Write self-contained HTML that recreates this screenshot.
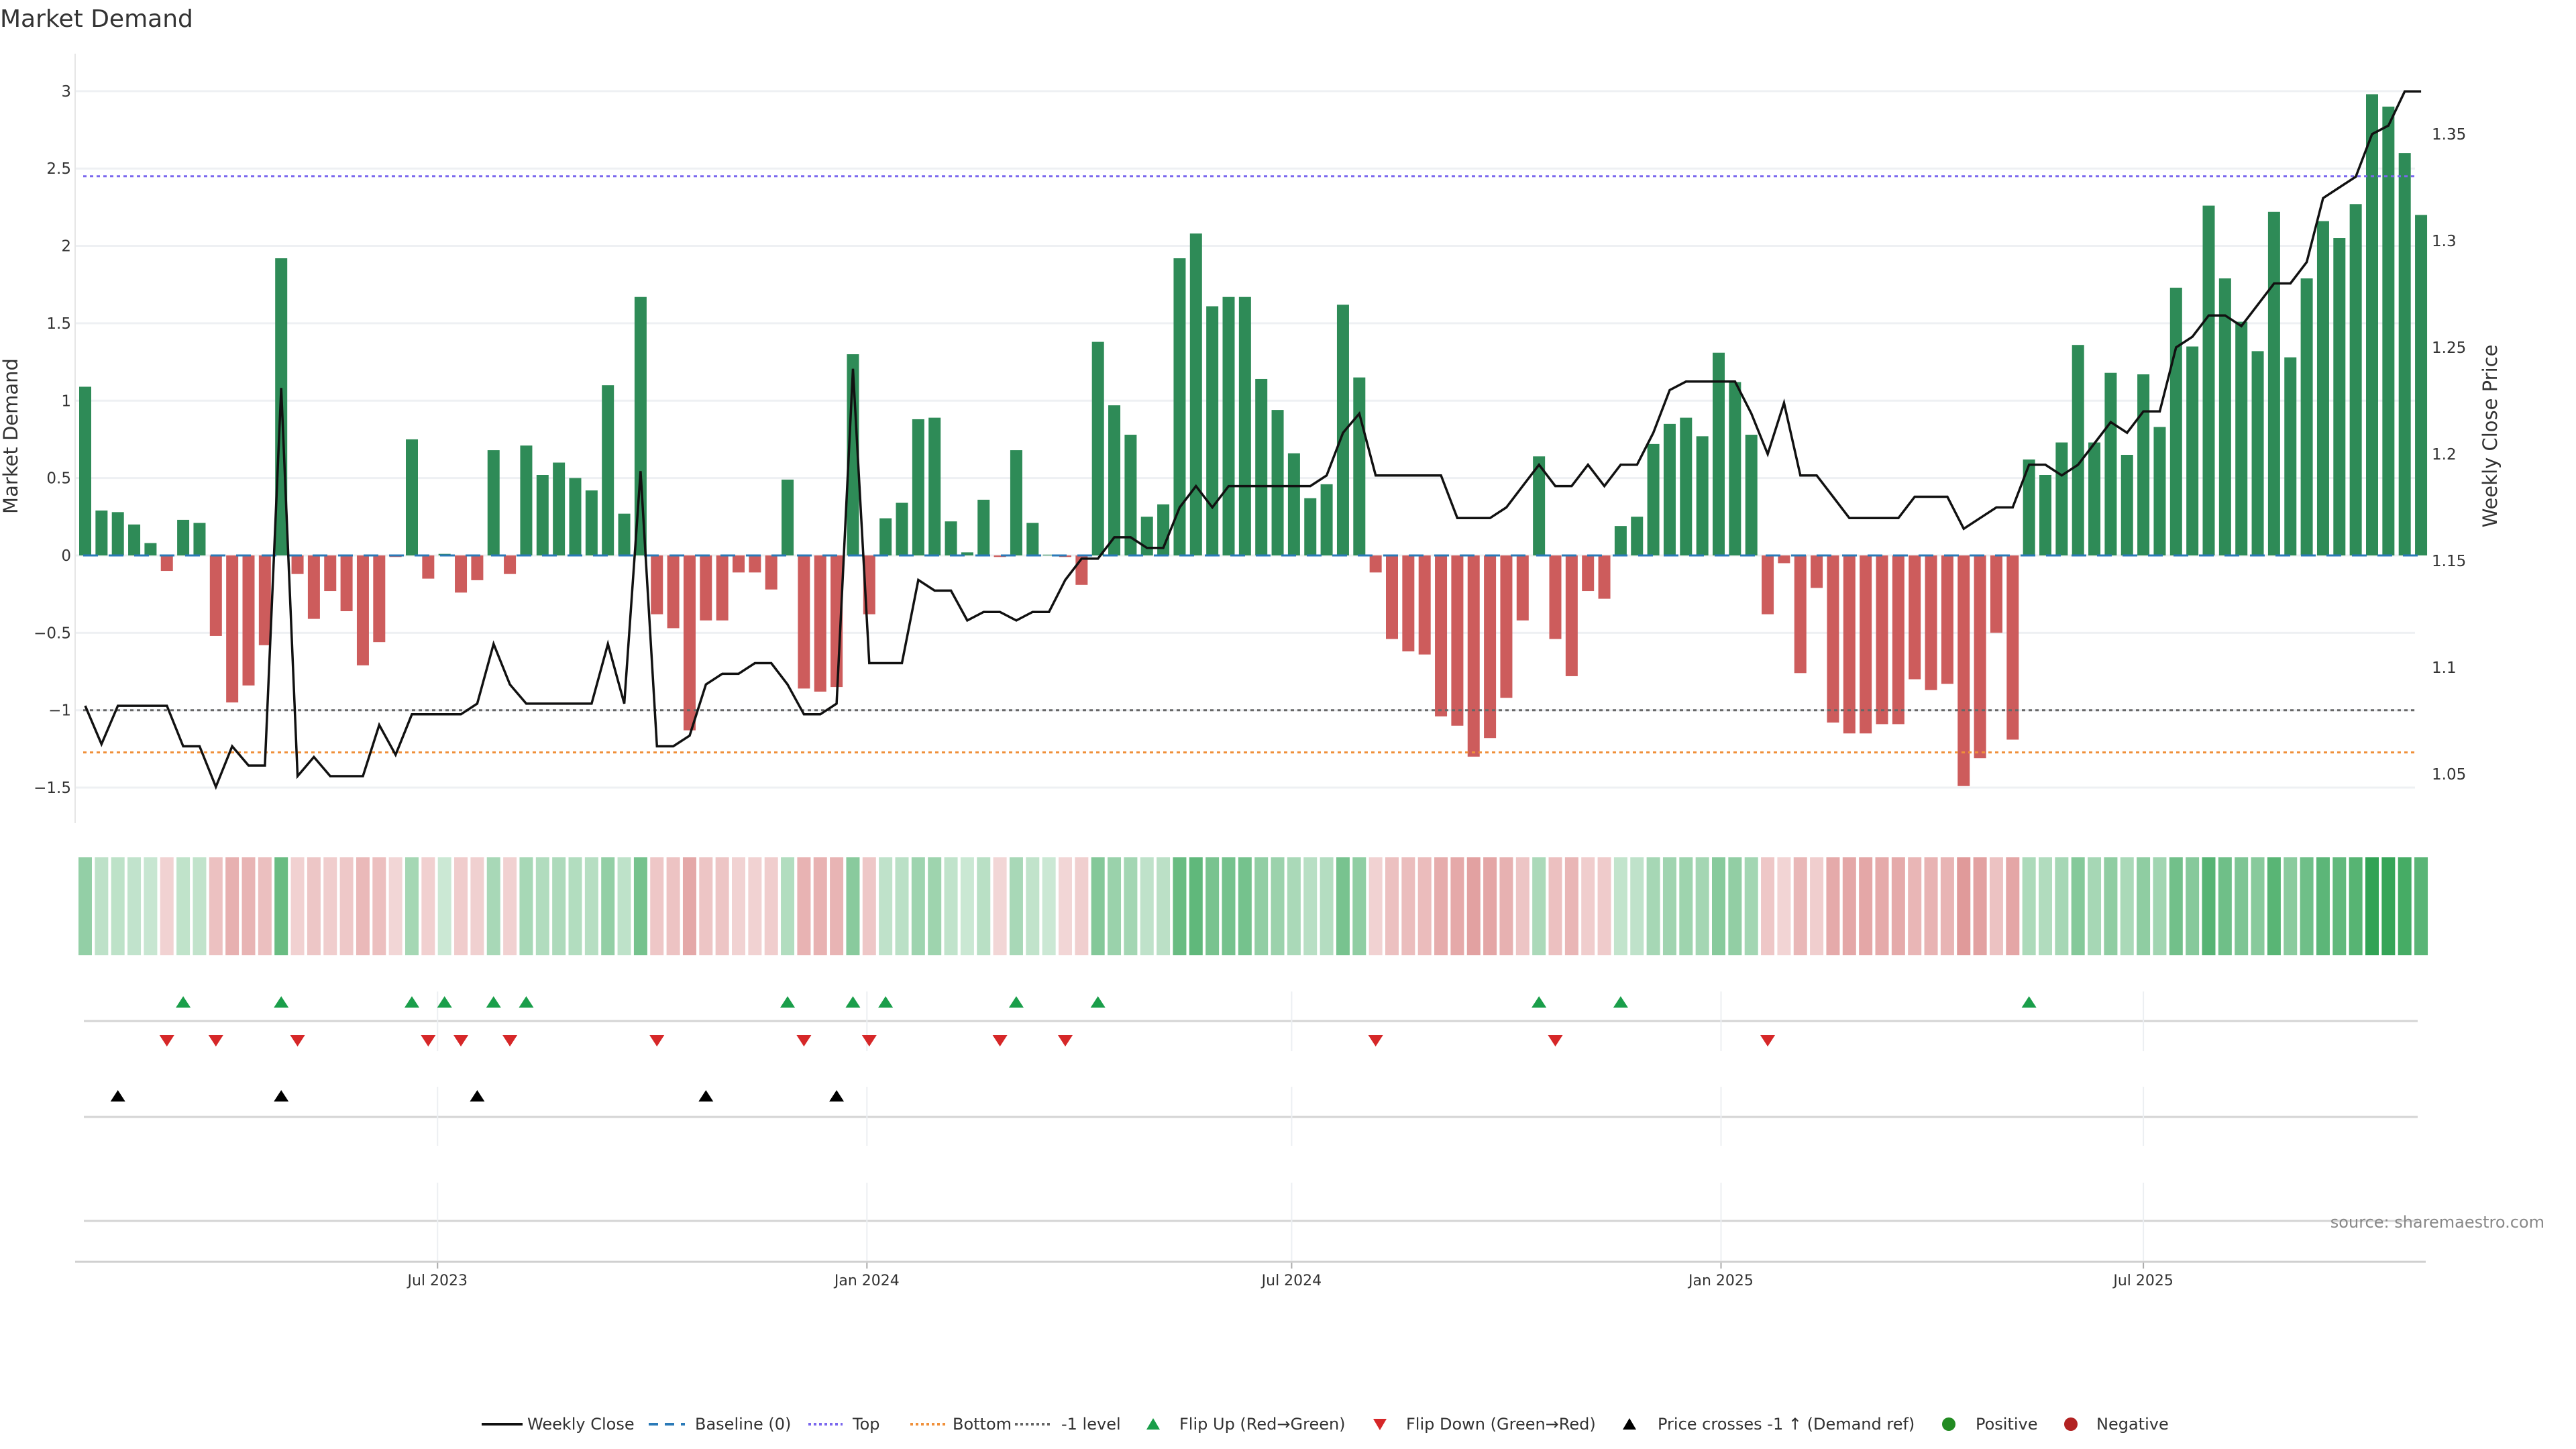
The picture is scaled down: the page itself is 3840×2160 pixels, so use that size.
<!DOCTYPE html>
<html><head><meta charset="utf-8"><style>
html,body{margin:0;padding:0;background:#fff;}
svg{display:block;font-family:"DejaVu Sans","Liberation Sans",sans-serif;}
</style></head><body>
<svg id="chart" width="3840" height="2160" viewBox="0 0 3840 2160" xmlns="http://www.w3.org/2000/svg">
<text x="0" y="40" font-size="36" fill="#333">Market Demand</text>
<g id="grid"></g><g id="bars"></g><g id="refs"></g><g id="price"></g><g id="strip"></g><g id="markers"></g><g id="axes"></g><g id="legend"></g>
<text x="3793" y="1830" font-size="24" fill="#888" text-anchor="end">source: sharemaestro.com</text>
</svg>
<script>
const demand=[1.09,0.29,0.28,0.2,0.08,-0.1,0.23,0.21,-0.52,-0.95,-0.84,-0.58,1.92,-0.12,-0.41,-0.23,-0.36,-0.71,-0.56,-0.01,0.75,-0.15,0.01,-0.24,-0.16,0.68,-0.12,0.71,0.52,0.6,0.5,0.42,1.1,0.27,1.67,-0.38,-0.47,-1.13,-0.42,-0.42,-0.11,-0.11,-0.22,0.49,-0.86,-0.88,-0.85,1.3,-0.38,0.24,0.34,0.88,0.89,0.22,0.02,0.36,-0.01,0.68,0.21,0.005,-0.01,-0.19,1.38,0.97,0.78,0.25,0.33,1.92,2.08,1.61,1.67,1.67,1.14,0.94,0.66,0.37,0.46,1.62,1.15,-0.11,-0.54,-0.62,-0.64,-1.04,-1.1,-1.3,-1.18,-0.92,-0.42,0.64,-0.54,-0.78,-0.23,-0.28,0.19,0.25,0.72,0.85,0.89,0.77,1.31,1.12,0.78,-0.38,-0.05,-0.76,-0.21,-1.08,-1.15,-1.15,-1.09,-1.09,-0.8,-0.87,-0.83,-1.49,-1.31,-0.5,-1.19,0.62,0.52,0.73,1.36,0.73,1.18,0.65,1.17,0.83,1.73,1.35,2.26,1.79,1.51,1.32,2.22,1.28,1.79,2.16,2.05,2.27,2.98,2.9,2.6,2.2];
const price=[1.082,1.064,1.082,1.082,1.082,1.082,1.063,1.063,1.044,1.063,1.054,1.054,1.231,1.049,1.058,1.049,1.049,1.049,1.073,1.059,1.078,1.078,1.078,1.078,1.083,1.111,1.092,1.083,1.083,1.083,1.083,1.083,1.111,1.083,1.192,1.063,1.063,1.068,1.092,1.097,1.097,1.102,1.102,1.092,1.078,1.078,1.083,1.240,1.102,1.102,1.102,1.141,1.136,1.136,1.122,1.126,1.126,1.122,1.126,1.126,1.141,1.151,1.151,1.161,1.161,1.156,1.156,1.175,1.185,1.175,1.185,1.185,1.185,1.185,1.185,1.185,1.190,1.210,1.219,1.190,1.190,1.190,1.190,1.190,1.170,1.170,1.170,1.175,1.185,1.195,1.185,1.185,1.195,1.185,1.195,1.195,1.210,1.230,1.234,1.234,1.234,1.234,1.219,1.200,1.224,1.190,1.190,1.180,1.170,1.170,1.170,1.170,1.180,1.180,1.180,1.165,1.170,1.175,1.175,1.195,1.195,1.190,1.195,1.205,1.215,1.210,1.220,1.220,1.250,1.255,1.265,1.265,1.260,1.270,1.280,1.280,1.290,1.320,1.325,1.330,1.350,1.354,1.370,1.370];
const leftTicks=[-1.5,-1,-0.5,0,0.5,1,1.5,2,2.5,3];
const rightTicks=[1.05,1.1,1.15,1.2,1.25,1.3,1.35];
const xTickDates=["2023-07-01","2024-01-01","2024-07-01","2025-01-01","2025-07-01"];
const xTickLabels=["Jul 2023","Jan 2024","Jul 2024","Jan 2025","Jul 2025"];
const topLevel=2.45, bottomLevel=-1.273, minusLevel=-1;
const startDate="2023-01-31";

const NS="http://www.w3.org/2000/svg";
const PT=80,PB=1227,PL=112,PR=3617;
const d0=Date.parse(startDate), WEEK=7*864e5, STEP=24.35, X0=127;
function xi(i){return X0+i*STEP;}
function xd(s){return X0+(Date.parse(s)-d0)/WEEK*STEP;}
const LMIN=-1.7295,LMAX=3.242, RMIN=1.027,RMAX=1.3877;
function yl(v){return PB-(v-LMIN)/(LMAX-LMIN)*(PB-PT);}
function yr(p){return PB-(p-RMIN)/(RMAX-RMIN)*(PB-PT);}
function mk(tag,attrs,parent){const e=document.createElementNS(NS,tag);for(const k in attrs)e.setAttribute(k,attrs[k]);parent.appendChild(e);return e;}
const G=id=>document.getElementById(id);
const fmt=v=>String(v).replace('-','\u2212');

leftTicks.forEach(v=>{
  const y=yl(v);
  const l=mk('line',{x1:PL,x2:3600,y1:y,y2:y,stroke:'#eef0f3','stroke-width':3},G('grid'));
  
  
  const t=mk('text',{x:106,y:y+8,'font-size':23,fill:'#333','text-anchor':'end'},G('axes'));
  t.textContent=fmt(v);
  
  
});
rightTicks.forEach(p=>{
  const t=mk('text',{x:3625,y:yr(p)+8,'font-size':23,fill:'#333'},G('axes'));
  t.textContent=String(p);
  
  
});
let ax=mk('line',{x1:PL,x2:PL,y1:PT,y2:PB,stroke:'#e6e6e6','stroke-width':2},G('axes'));


let yt=mk('text',{x:0,y:0,'font-size':29,fill:'#333','text-anchor':'middle',transform:'translate(26,650) rotate(-90)'},G('axes'));
yt.textContent='Market Demand';


let yt2=mk('text',{x:0,y:0,'font-size':29,fill:'#333','text-anchor':'middle',transform:'translate(3722,650) rotate(-90)'},G('axes'));
yt2.textContent='Weekly Close Price';



function ref(v,color,dash,name,w){const l=mk('line',{x1:124,x2:3604,y1:yl(v),y2:yl(v),stroke:color,'stroke-width':w||3,'stroke-dasharray':dash},G('refs'));}
ref(topLevel,'#7b68ee','5 5','top-line');
ref(bottomLevel,'#f0903a','5 5','bottom-line');
ref(minusLevel,'#666','5 5','minus-one-level-line');

demand.forEach((v,i)=>{
  const y0=yl(0),y1=yl(v);
  const r=mk('rect',{x:xi(i)-9,y:Math.min(y0,y1),width:18,height:Math.max(1,Math.abs(y1-y0)),fill:v>=0?'#2e8b57':'#cd5c5c'},G('bars'));
  
  
});
let bl=mk('line',{x1:124,x2:3604,y1:yl(0),y2:yl(0),stroke:'#2a7ab8','stroke-width':3,'stroke-dasharray':'22 16'},G('refs'));



const pts=price.map((p,i)=>xi(i).toFixed(1)+','+yr(p).toFixed(1)).join(' ');
const pl=mk('polyline',{points:pts,fill:'none',stroke:'#111','stroke-width':3.5,'stroke-linejoin':'miter'},G('price'));



function mix(c,a){return 'rgb('+c.map(ch=>Math.round(ch*a+255*(1-a))).join(',')+')';}
demand.forEach((v,i)=>{
  const a=Math.min(1,0.25+0.75*Math.abs(v)/3);
  const r=mk('rect',{x:xi(i)-10,y:1278,width:20,height:146,fill:v>=0?mix([49,163,84],a):mix([205,92,92],a)},G('strip'));
  
  
});

[1522,1665,1820].forEach(y=>{const l=mk('line',{x1:125,x2:3604,y1:y,y2:y,stroke:'#d4d4d4','stroke-width':3},G('markers'));});
xTickDates.forEach((d,k)=>{
  const x=xd(d);
  [[1478,1567],[1620,1708],[1763,1879]].forEach(s=>{const l=mk('line',{x1:x,x2:x,y1:s[0],y2:s[1],stroke:'#eceff2','stroke-width':2},G('markers'));});
  const tk=mk('line',{x1:x,x2:x,y1:1881,y2:1891,stroke:'#aaa','stroke-width':2},G('axes'));
  
  
  const t=mk('text',{x:x,y:1916,'font-size':22,fill:'#333','text-anchor':'middle'},G('axes'));
  t.textContent=xTickLabels[k];
  
  
});
let xa=mk('line',{x1:112,x2:3616,y1:1881,y2:1881,stroke:'#d0d0d0','stroke-width':3},G('axes'));


function tri(x,y,up,color,name){
  const p=up?`${x-11},${y+8} ${x+11},${y+8} ${x},${y-9}`:`${x-11},${y-8} ${x+11},${y-8} ${x},${y+9}`;
  const e=mk('polygon',{points:p,fill:color},G('markers'));
  
  
}
const priceRef=RMIN+(yl(minusLevel)-PB)/(PT-PB)*(RMAX-RMIN);
for(let i=1;i<demand.length;i++){
  if(demand[i-1]<0&&demand[i]>=0)tri(xi(i),1494,true,'#1a9e4a','flip-up-marker');
  if(demand[i-1]>=0&&demand[i]<0)tri(xi(i),1551,false,'#d62728','flip-down-marker');
  if(price[i-1]<priceRef&&price[i]>=priceRef)tri(xi(i),1634,true,'#000','price-cross-marker');
}

const L=G('legend'), LY=2123;
function ltext(x,s){const t=mk('text',{x:x,y:LY+8,'font-size':24,fill:'#333'},L);t.textContent=s;}
function lline(x1,x2,c,dash,name){const l=mk('line',{x1:x1,x2:x2,y1:LY,y2:LY,stroke:c,'stroke-width':4,'stroke-dasharray':dash||'none'},L);}
lline(718,779,'#111',null,'legend-weekly-close');ltext(786,'Weekly Close');
lline(967,1021,'#2a7ab8','14 10','legend-baseline');ltext(1036,'Baseline (0)');
lline(1205,1256,'#7b68ee','4 4','legend-top');ltext(1271,'Top');
lline(1357,1411,'#f0903a','4 4','legend-bottom');ltext(1420,'Bottom');
lline(1513,1567,'#666','4 4','legend-minus-one');ltext(1582,'-1 level');
function ltri(x,up,c,name){const p=up?`${x-10},${LY+8} ${x+10},${LY+8} ${x},${LY-9}`:`${x-10},${LY-8} ${x+10},${LY-8} ${x},${LY+9}`;const e=mk('polygon',{points:p,fill:c},L);}
ltri(1719,true,'#1a9e4a','legend-flip-up');ltext(1758,'Flip Up (Red\u2192Green)');
ltri(2057,false,'#d62728','legend-flip-down');ltext(2096,'Flip Down (Green\u2192Red)');
ltri(2429,true,'#000','legend-price-cross');ltext(2471,'Price crosses -1 \u2191 (Demand ref)');
let c1=mk('circle',{cx:2905,cy:LY,r:10,fill:'#228b22'},L);ltext(2945,'Positive');
let c2=mk('circle',{cx:3087,cy:LY,r:10,fill:'#b22222'},L);ltext(3125,'Negative');
</script>
</body></html>
